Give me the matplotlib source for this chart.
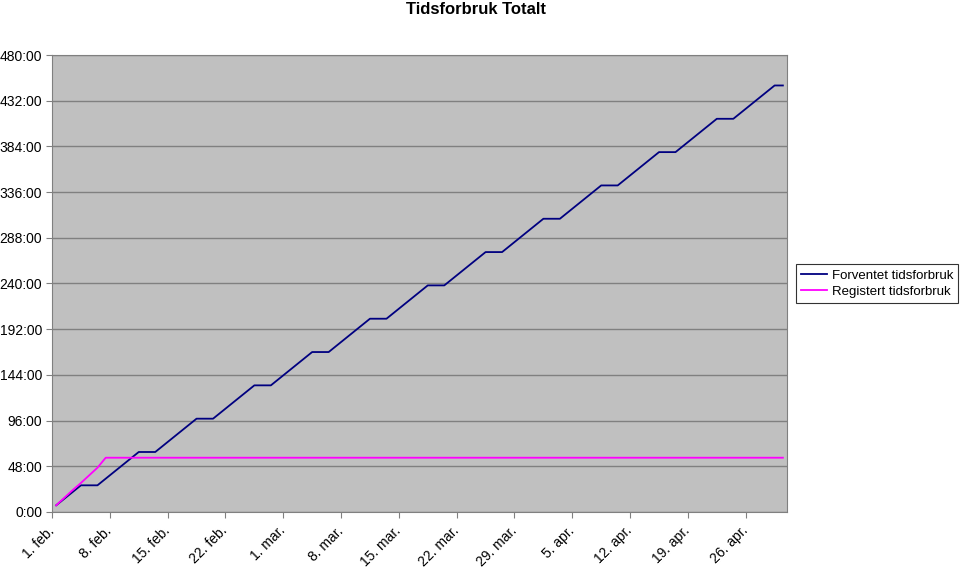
import matplotlib
matplotlib.use("Agg")
import matplotlib.pyplot as plt

plt.rcParams['font.family'] = ['Liberation Sans', 'DejaVu Sans']

# dag 0 = 1. feb. (tirsdag), siste dag = 30. apr.
forventet = [7, 14, 21, 28, 28, 28,
             35, 42, 49, 56, 63, 63, 63,
             70, 77, 84, 91, 98, 98, 98,
             105, 112, 119, 126, 133, 133, 133,
             140, 147, 154, 161, 168, 168, 168,
             175, 182, 189, 196, 203, 203, 203,
             210, 217, 224, 231, 238, 238, 238,
             245, 252, 259, 266, 273, 273, 273,
             280, 287, 294, 301, 308, 308, 308,
             315, 322, 329, 336, 343, 343, 343,
             350, 357, 364, 371, 378, 378, 378,
             385, 392, 399, 406, 413, 413, 413,
             420, 427, 434, 441, 448, 448]

registrert = [7, 15, 23, 30.5, 38.5, 46.5,
              57, 57, 57, 57, 57, 57, 57,
              57, 57, 57, 57, 57, 57, 57,
              57, 57, 57, 57, 57, 57, 57,
              57, 57, 57, 57, 57, 57, 57,
              57, 57, 57, 57, 57, 57, 57,
              57, 57, 57, 57, 57, 57, 57,
              57, 57, 57, 57, 57, 57, 57,
              57, 57, 57, 57, 57, 57, 57,
              57, 57, 57, 57, 57, 57, 57,
              57, 57, 57, 57, 57, 57, 57,
              57, 57, 57, 57, 57, 57, 57,
              57, 57, 57, 57, 57, 57]

dato_labels = ["1. feb.", "8. feb.", "15. feb.", "22. feb.", "1. mar.", "8. mar.",
               "15. mar.", "22. mar.", "29. mar.", "5. apr.", "12. apr.", "19. apr.",
               "26. apr."]

y_ticks = [0, 48, 96, 144, 192, 240, 288, 336, 384, 432, 480]

dager = list(range(len(forventet)))

fig = plt.figure(figsize=(9.6, 5.7), dpi=100)
ax = fig.add_axes([0.0542, 0.1018, 0.7656, 0.8017])
ax.set_facecolor('#C0C0C0')

ax.plot(dager, forventet, color='#000080', lw=1.3, label='Forventet tidsforbruk')
ax.plot(dager, registrert, color='#FF00FF', lw=1.3, label='Registert tidsforbruk')

ax.set_xlim(-0.5, len(dager) - 0.5)
ax.set_ylim(0, 480)
ax.set_yticks(y_ticks)
ax.set_yticklabels([f"{v}:00" for v in y_ticks])
ax.set_xticks([-0.5 + 7 * i for i in range(len(dato_labels))])
ax.set_xticklabels(dato_labels, rotation=45, ha='right', va='center',
                   rotation_mode='anchor')

ax.grid(axis='y', color='#808080', lw=1)
ax.set_axisbelow(True)
for s in ax.spines.values():
    s.set_color('#808080')
ax.tick_params(axis='both', colors='#808080', labelcolor='black', labelsize=10,
               length=4, direction='out')
ax.tick_params(axis='y', pad=3)
ax.tick_params(axis='x', pad=8)

fig.suptitle('Tidsforbruk Totalt', x=0.496, y=0.984, va='center',
             fontsize=12, fontweight='bold')

leg = ax.legend(loc='center left', bbox_to_anchor=(1.0125, 0.5), fontsize=9.5,
                frameon=True, fancybox=False, edgecolor='black', handlelength=1.9,
                borderpad=0.4, labelspacing=0.3, handletextpad=0.38,
                borderaxespad=0)
leg.get_frame().set_linewidth(0.8)

fig.savefig('out.png', dpi=100)
